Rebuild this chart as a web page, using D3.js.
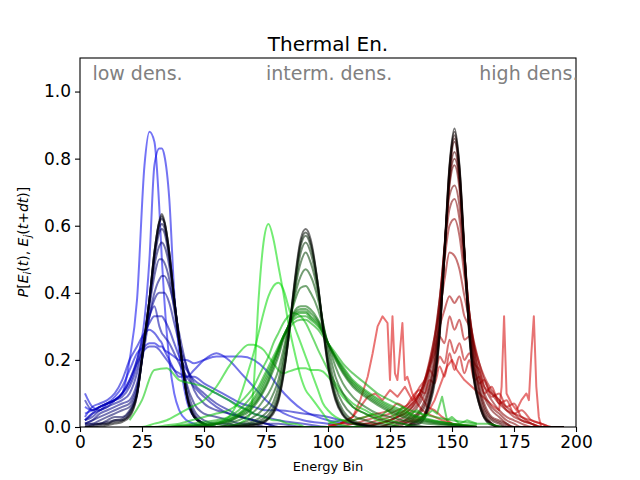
<!DOCTYPE html>
<html>
<head>
<meta charset="utf-8">
<title>Thermal En.</title>
<script src="https://cdn.jsdelivr.net/npm/d3@7"></script>
<style>
  body { margin: 0; background: #fff; }
  svg text { font-family: "DejaVu Sans", sans-serif; }
</style>
</head>
<body>
<div id="chart"></div>
<script>
var blueX = [2,5,8,11,14,17,20,23,26,28,30,32,33,34,36,38,40,43,46,50,55,60,65,70,75,80,90,100,110,120];
// low density, early (light) to late (dark)
var blueY = [
  [0.06,0.05,0.06,0.07,0.08,0.10,0.20,0.38,0.78,0.88,0.85,0.65,0.50,0.38,0.20,0.10,0.05,0.02,0.01,0,0,0,0,0,0,0,0,0,0,0],
  [0.04,0.05,0.06,0.07,0.08,0.10,0.13,0.20,0.32,0.50,0.78,0.83,0.83,0.81,0.68,0.40,0.22,0.08,0.03,0.01,0,0,0,0,0,0,0,0,0,0],
  [0.10,0.06,0.05,0.07,0.09,0.12,0.17,0.22,0.24,0.25,0.25,0.24,0.24,0.23,0.22,0.21,0.20,0.20,0.19,0.20,0.21,0.21,0.21,0.20,0.17,0.12,0.05,0.02,0.01,0],
  [0.03,0.06,0.07,0.08,0.10,0.14,0.20,0.24,0.28,0.29,0.28,0.26,0.25,0.23,0.20,0.17,0.15,0.15,0.17,0.20,0.22,0.20,0.16,0.12,0.08,0.05,0.02,0.01,0,0],
  [0.02,0.04,0.05,0.06,0.08,0.10,0.14,0.19,0.23,0.24,0.24,0.23,0.22,0.21,0.19,0.17,0.16,0.15,0.15,0.13,0.11,0.09,0.07,0.06,0.05,0.05,0.04,0.03,0.01,0],
  [0.02,0.04,0.06,0.07,0.08,0.10,0.14,0.20,0.28,0.31,0.33,0.33,0.33,0.32,0.29,0.25,0.21,0.17,0.14,0.12,0.10,0.08,0.06,0.04,0.03,0.02,0.01,0,0,0],
  [0.08,0.05,0.06,0.07,0.08,0.09,0.12,0.18,0.27,0.33,0.36,0.30,0.28,0.27,0.25,0.22,0.19,0.15,0.12,0.09,0.06,0.04,0.03,0.02,0.01,0,0,0,0,0],
  [0.02,0.03,0.05,0.06,0.07,0.08,0.10,0.16,0.26,0.33,0.38,0.40,0.40,0.40,0.37,0.31,0.25,0.18,0.13,0.10,0.07,0.05,0.03,0.02,0.01,0.01,0,0,0,0],
  [0.01,0.02,0.04,0.05,0.06,0.07,0.08,0.13,0.24,0.33,0.40,0.44,0.45,0.45,0.42,0.36,0.28,0.18,0.11,0.07,0.05,0.04,0.03,0.02,0.01,0,0,0,0,0],
  [0.01,0.02,0.03,0.04,0.05,0.06,0.07,0.12,0.26,0.36,0.45,0.50,0.50,0.49,0.44,0.35,0.25,0.13,0.07,0.04,0.03,0.02,0.01,0.01,0,0,0,0,0,0],
  [0.01,0.01,0.02,0.03,0.04,0.05,0.06,0.11,0.26,0.37,0.48,0.54,0.55,0.54,0.48,0.37,0.26,0.12,0.05,0.02,0.01,0.01,0,0,0,0,0,0,0,0],
  [0.005,0.01,0.01,0.02,0.03,0.03,0.05,0.10,0.26,0.38,0.50,0.58,0.59,0.58,0.50,0.38,0.26,0.10,0.04,0.01,0,0,0,0,0,0,0,0,0,0],
  [0,0.005,0.01,0.015,0.02,0.025,0.045,0.10,0.26,0.38,0.51,0.595,0.605,0.595,0.51,0.38,0.26,0.10,0.035,0.01,0,0,0,0,0,0,0,0,0,0],
  [0,0.005,0.01,0.01,0.02,0.02,0.04,0.10,0.26,0.38,0.52,0.61,0.62,0.61,0.52,0.38,0.26,0.10,0.03,0.01,0,0,0,0,0,0,0,0,0,0],
  [0,0,0.005,0.01,0.015,0.02,0.035,0.095,0.265,0.38,0.52,0.61,0.628,0.61,0.52,0.38,0.26,0.095,0.03,0.009,0,0,0,0,0,0,0,0,0,0],
  [0,0,0,0.005,0.01,0.015,0.03,0.095,0.27,0.38,0.52,0.615,0.635,0.615,0.52,0.38,0.26,0.095,0.03,0.008,0,0,0,0,0,0,0,0,0,0]
];

var greenX = [20,25,30,35,40,45,50,55,60,64,68,70,72,74,76,78,80,82,84,86,89,91,93,96,98,100,103,106,110,115,120,125,130,135,140,150,160];
// intermediate density
var greenY = [
  [0,0,0,0,0, 0,0,0,0.003,0.01, 0.03,0.12,0.38,0.55,0.605, 0.56,0.48,0.40,0.31,0.24, 0.15,0.11,0.09,0.06,0.04, 0.02,0.01,0.005,0,0, 0,0,0,0,0, 0,0],
  [0,0,0,0,0, 0,0,0.01,0.03,0.08, 0.17,0.22,0.28,0.34,0.39, 0.42,0.43,0.41,0.36,0.31, 0.25,0.21,0.17,0.11,0.07, 0.05,0.03,0.02,0.01,0, 0,0,0,0,0, 0,0],
  [0,0,0.01,0.02,0.04, 0.06,0.08,0.12,0.18,0.22, 0.245,0.245,0.24,0.23,0.21, 0.19,0.17,0.16,0.165,0.17, 0.175,0.175,0.17,0.17,0.165, 0.15,0.12,0.09,0.06,0.04, 0.02,0.01,0,0,0, 0,0],
  [0.02,0.08,0.17,0.175,0.14, 0.13,0.12,0.10,0.08,0.06, 0.05,0.04,0.035,0.03,0.025, 0.02,0.02,0.015,0.01,0.01, 0.005,0,0,0,0, 0,0,0,0,0, 0,0,0,0,0, 0,0],
  [0,0,0,0.005,0.01, 0.02,0.03,0.04,0.05,0.07, 0.10,0.12,0.15,0.18,0.21, 0.25,0.28,0.31,0.33,0.34, 0.33,0.31,0.28,0.23,0.20, 0.17,0.13,0.10,0.07,0.05, 0.03,0.02,0.01,0,0, 0,0],
  [0,0,0,0,0.005, 0.01,0.015,0.02,0.03,0.05, 0.08,0.10,0.12,0.15,0.18, 0.21,0.24,0.27,0.29,0.31, 0.32,0.32,0.31,0.29,0.27, 0.25,0.22,0.19,0.16,0.13, 0.10,0.08,0.06,0.045,0.035, 0.02,0.01],
  [0,0,0,0,0.003, 0.006,0.01,0.015,0.025,0.04, 0.065,0.085,0.11,0.14,0.17, 0.20,0.235,0.27,0.30,0.32, 0.33,0.33,0.32,0.30,0.28, 0.25,0.21,0.18,0.14,0.11, 0.085,0.065,0.05,0.035,0.025, 0.01,0.005],
  [0,0,0,0,0.002, 0.004,0.008,0.012,0.022,0.038, 0.06,0.078,0.10,0.13,0.16, 0.195,0.23,0.27,0.30,0.325, 0.34,0.34,0.325,0.305,0.28, 0.25,0.21,0.175,0.135,0.105, 0.08,0.06,0.045,0.032,0.022, 0.01,0],
  [0,0,0,0,0, 0.003,0.006,0.01,0.02,0.035, 0.055,0.07,0.09,0.12,0.15, 0.19,0.23,0.27,0.30,0.33, 0.345,0.345,0.33,0.31,0.28, 0.25,0.21,0.17,0.13,0.10, 0.075,0.055,0.04,0.03,0.02, 0.01,0],
  [0,0,0,0,0, 0.002,0.005,0.009,0.017,0.032, 0.05,0.065,0.085,0.11,0.14, 0.18,0.22,0.265,0.30,0.335, 0.352,0.352,0.34,0.315,0.285, 0.25,0.205,0.165,0.125,0.095, 0.07,0.05,0.035,0.025,0.017, 0.007,0],
  [0,0,0,0,0, 0,0.004,0.008,0.015,0.03, 0.045,0.06,0.08,0.105,0.135, 0.17,0.21,0.26,0.30,0.34, 0.36,0.36,0.35,0.32,0.29, 0.25,0.20,0.16,0.12,0.09, 0.065,0.045,0.03,0.02,0.015, 0.005,0],
  [0,0,0,0,0, 0,0,0,0.01,0.02, 0.035,0.045,0.06,0.08,0.10, 0.13,0.17,0.23,0.30,0.36, 0.415,0.42,0.40,0.35,0.30, 0.25,0.18,0.13,0.09,0.06, 0.04,0.03,0.02,0.015,0.01, 0.005,0],
  [0,0,0,0,0, 0,0,0,0.005,0.01, 0.02,0.03,0.04,0.055,0.07, 0.10,0.14,0.21,0.29,0.37, 0.45,0.47,0.45,0.38,0.31, 0.24,0.15,0.10,0.06,0.04, 0.025,0.015,0.01,0.005,0, 0,0],
  [0,0,0,0,0, 0,0,0,0.003,0.006, 0.012,0.018,0.025,0.035,0.05, 0.075,0.12,0.19,0.28,0.38, 0.49,0.52,0.49,0.40,0.31, 0.22,0.12,0.07,0.035,0.02, 0.01,0.005,0,0,0, 0,0],
  [0,0,0,0,0, 0,0,0,0,0.004, 0.008,0.012,0.017,0.025,0.037, 0.06,0.10,0.17,0.27,0.38, 0.52,0.55,0.52,0.41,0.30, 0.20,0.10,0.05,0.02,0.008, 0.003,0,0,0,0, 0,0],
  [0,0,0,0,0, 0,0,0,0,0.003, 0.006,0.008,0.012,0.018,0.028, 0.05,0.088,0.16,0.26,0.39, 0.54,0.57,0.54,0.42,0.30, 0.19,0.09,0.04,0.015,0.005, 0,0,0,0,0, 0,0],
  [0,0,0,0,0, 0,0,0,0,0.002, 0.004,0.006,0.01,0.015,0.026, 0.045,0.082,0.155,0.26,0.395, 0.55,0.58,0.55,0.42,0.295, 0.185,0.085,0.037,0.013,0.004, 0,0,0,0,0, 0,0],
  [0,0,0,0,0, 0,0,0,0,0, 0.003,0.005,0.007,0.012,0.024, 0.04,0.077,0.15,0.26,0.40, 0.56,0.59,0.56,0.42,0.29, 0.18,0.08,0.035,0.012,0.004, 0,0,0,0,0, 0,0]
];
// one early, noisy intermediate-density curve near the high-density peak
var greenNoiseX = [100,105,110,115,118,121,124,127,130,133,136,139,142,144,146,148,150,153,156,160,165,170];
var greenNoiseY = [0.01,0.02,0.02,0.03,0.04,0.03,0.05,0.03,0.06,0.04,0.05,0.03,0.05,0.04,0.09,0.02,0.03,0.01,0.02,0.01,0.01,0];

var redX = [100,105,110,115,120,125,128,131,134,137,139,141,143,145,147,149,151,153,155,157,159,161,163,166,169,172,175,178,182,186,190,195];
// high density
var redY = [
  [0,0.01,0.02,0.03,0.04, 0.05,0.07,0.06,0.09,0.11, 0.10,0.14,0.13,0.18,0.15, 0.22,0.17,0.21,0.16,0.20, 0.14,0.15,0.10,0.12,0.07, 0.08,0.04,0.05,0.02,0.01, 0,0],
  [0,0.01,0.01,0.02,0.03, 0.04,0.05,0.06,0.08,0.12, 0.14,0.17,0.15,0.21,0.19, 0.26,0.22,0.25,0.20,0.22, 0.17,0.13,0.14,0.09,0.10, 0.06,0.07,0.03,0.02,0.01, 0,0],
  [0,0,0.01,0.01,0.02, 0.03,0.04,0.05,0.07,0.10, 0.13,0.18,0.22,0.27,0.25, 0.33,0.29,0.32,0.26,0.27, 0.19,0.17,0.12,0.10,0.08, 0.05,0.04,0.03,0.01,0, 0,0],
  [0,0,0,0.01,0.01, 0.02,0.03,0.04,0.06,0.10, 0.14,0.19,0.24,0.30,0.35, 0.39,0.37,0.39,0.33,0.30, 0.24,0.19,0.15,0.11,0.08, 0.06,0.04,0.02,0.01,0, 0,0],
  [0,0,0,0,0.01, 0.02,0.03,0.05,0.07,0.10, 0.14,0.20,0.27,0.35,0.44, 0.52,0.51,0.47,0.39,0.32, 0.25,0.19,0.14,0.10,0.07, 0.05,0.03,0.02,0.01,0, 0,0],
  [0,0,0,0,0.01, 0.02,0.03,0.04,0.06,0.09, 0.13,0.19,0.27,0.38,0.50, 0.60,0.62,0.57,0.45,0.34, 0.24,0.17,0.12,0.08,0.05, 0.03,0.02,0.01,0,0, 0,0],
  [0,0,0,0,0, 0.01,0.02,0.03,0.05,0.08, 0.12,0.18,0.26,0.38,0.53, 0.65,0.68,0.62,0.48,0.34, 0.23,0.15,0.10,0.06,0.04, 0.02,0.01,0,0,0, 0,0],
  [0,0,0,0,0, 0.01,0.015,0.02,0.04,0.07, 0.10,0.16,0.24,0.37,0.54, 0.69,0.72,0.66,0.50,0.34, 0.22,0.14,0.09,0.05,0.03, 0.01,0,0,0,0, 0,0],
  [0,0,0,0,0, 0,0.01,0.02,0.03,0.05, 0.08,0.13,0.21,0.34,0.54, 0.72,0.78,0.71,0.52,0.33, 0.20,0.12,0.07,0.03,0.02, 0.01,0,0,0,0, 0,0],
  [0,0,0,0,0, 0,0.005,0.015,0.025,0.045, 0.07,0.12,0.195,0.325,0.53, 0.73,0.80,0.73,0.52,0.32, 0.185,0.11,0.06,0.025,0.015, 0.005,0,0,0,0, 0,0],
  [0,0,0,0,0, 0,0,0.01,0.02,0.04, 0.06,0.11,0.18,0.31,0.52, 0.74,0.82,0.74,0.52,0.31, 0.17,0.10,0.05,0.02,0.01, 0,0,0,0,0, 0,0],
  [0,0,0,0,0, 0,0,0,0.015,0.025, 0.04,0.09,0.16,0.29,0.51, 0.75,0.85,0.75,0.51,0.29, 0.15,0.08,0.04,0.01,0, 0,0,0,0,0, 0,0],
  [0,0,0,0,0, 0,0,0,0.012,0.022, 0.037,0.085,0.155,0.285,0.515, 0.76,0.86,0.76,0.515,0.285, 0.145,0.075,0.035,0.01,0, 0,0,0,0,0, 0,0],
  [0,0,0,0,0, 0,0,0,0.01,0.02, 0.035,0.08,0.15,0.28,0.52, 0.77,0.87,0.77,0.52,0.28, 0.14,0.07,0.03,0.01,0, 0,0,0,0,0, 0,0],
  [0,0,0,0,0, 0,0,0,0.007,0.015, 0.03,0.073,0.14,0.275,0.525, 0.775,0.88,0.775,0.525,0.275, 0.135,0.068,0.028,0.008,0.001, 0,0,0,0,0, 0,0],
  [0,0,0,0,0, 0,0,0,0.005,0.01, 0.027,0.067,0.13,0.27,0.53, 0.78,0.89,0.78,0.53,0.27, 0.13,0.067,0.027,0.006,0.002, 0,0,0,0,0, 0,0]
];
// early, jagged high-density curves (own bins)
var redJagX = [
  [100,105,110,113,116,118,120,122,124,125,126,127,128,130,131,132,134,136,138,140,143,146,150,155,160],
  [130,135,140,143,146,148,150,152,155,158,161,164,167,169,170,171,172,174,176,178,180,181,182,183,184,185,186],
  [105,110,113,116,119,122,125,128,131,134,137,140,143,146,150]
];
var redJagY = [
  [0.005,0.01,0.03,0.08,0.15,0.22,0.30,0.33,0.31,0.14,0.33,0.16,0.14,0.31,0.14,0.15,0.10,0.07,0.05,0.04,0.03,0.02,0.01,0.005,0],
  [0.01,0.02,0.04,0.08,0.14,0.18,0.20,0.17,0.14,0.12,0.10,0.08,0.06,0.05,0.12,0.33,0.10,0.07,0.05,0.08,0.10,0.08,0.22,0.33,0.12,0.03,0],
  [0.01,0.03,0.06,0.09,0.10,0.08,0.11,0.09,0.12,0.08,0.10,0.06,0.05,0.03,0.01]
];

var xTicks = [0, 25, 50, 75, 100, 125, 150, 175, 200];
var yTicks = [0.0, 0.2, 0.4, 0.6, 0.8, 1.0];
var groupLabels = ["low dens.", "interm. dens.", "high dens."];
var labelPos = [5, 75, 161];

var width = 640, height = 480;
var x = d3.scaleLinear().domain([0, 200]).range([80, 576]);
var y = d3.scaleLinear().domain([0, 1.1]).range([427, 58]);

var svg = d3.select("#chart").append("svg")
    .attr("width", width).attr("height", height);

svg.append("clipPath").attr("id", "plotclip")
  .append("rect").attr("x", 80).attr("y", 58).attr("width", 496).attr("height", 369);

function pairs(xs, ys) {
    return ys.map(function(v, i) { return [xs[i], v]; });
}

var smooth = d3.line().x(function(d) { return x(d[0]); }).y(function(d) { return y(d[1]); })
    .curve(d3.curveMonotoneX);
var jag = d3.line().x(function(d) { return x(d[0]); }).y(function(d) { return y(d[1]); });

// each group: list of curves, light first, dark last
var blueSeries = blueY.map(function(c) { return {pts: pairs(blueX, c), line: smooth}; });
var greenSeries = greenY.slice(0, 5).map(function(c) { return {pts: pairs(greenX, c), line: smooth}; })
    .concat([{pts: pairs(greenNoiseX, greenNoiseY), line: jag}])
    .concat(greenY.slice(5).map(function(c) { return {pts: pairs(greenX, c), line: smooth}; }));
var redSeries = redJagY.map(function(c, i) { return {pts: pairs(redJagX[i], c), line: jag}; })
    .concat(redY.map(function(c) { return {pts: pairs(redX, c), line: smooth}; }));

var groups = [
    {series: blueSeries, base: "#0000ee"},
    {series: redSeries, base: "#d80000"},
    {series: greenSeries, base: "#00dd00"}
];

var plot = svg.append("g").attr("clip-path", "url(#plotclip)");
groups.forEach(function(g) {
    var n = g.series.length;
    var col = d3.interpolateRgb(g.base, "#000000");
    plot.append("g").selectAll("path").data(g.series).enter()
        .append("path")
        .attr("d", function(d) { return d.line(d.pts); })
        .attr("fill", "none")
        .attr("stroke", function(d, i) { return col(Math.pow(i / (n - 1), 1.3)); })
        .attr("stroke-width", 2)
        .attr("stroke-opacity", 0.55)
        .attr("stroke-linejoin", "round");
});

// axes
var xAxis = svg.append("g").attr("transform", "translate(0,427)")
    .call(d3.axisBottom(x).tickValues(xTicks).tickSize(5).tickPadding(4).tickFormat(d3.format("d")));
var yAxis = svg.append("g").attr("transform", "translate(80,0)")
    .call(d3.axisLeft(y).tickValues(yTicks).tickSize(5).tickPadding(4).tickFormat(d3.format(".1f")));
[xAxis, yAxis].forEach(function(a) {
    a.select(".domain").remove();
    a.selectAll("line").attr("stroke", "#000").attr("stroke-width", 1.1);
    a.selectAll("text").attr("fill", "#000").style("font-size", "17px")
        .style("font-family", "DejaVu Sans, sans-serif");
});

svg.append("rect").attr("x", 80).attr("y", 58).attr("width", 496).attr("height", 369)
    .attr("fill", "none").attr("stroke", "#000").attr("stroke-width", 1.1);

// titles and labels
svg.append("text").attr("x", 328).attr("y", 51).attr("text-anchor", "middle")
    .style("font-size", "20px").text("Thermal En.");

svg.append("text").attr("x", 328).attr("y", 471).attr("text-anchor", "middle")
    .style("font-size", "13px").text("Energy Bin");

svg.selectAll(".glabel").data(groupLabels).enter()
    .append("text").attr("class", "glabel")
    .attr("x", function(d, i) { return x(labelPos[i]); })
    .attr("y", 80)
    .attr("fill", "#808080")
    .style("font-size", "19px")
    .text(function(d) { return d; });

// y label: P[E_i(t), E_j(t+dt)]
var yl = svg.append("text").attr("transform", "translate(28,242) rotate(-90)")
    .attr("text-anchor", "middle").style("font-size", "14px");
var parts = [
    ["P", "i"], ["[", ""], ["E", "i"], ["i", "sub"], ["(", ""], ["t", "i"], ["), ", ""],
    ["E", "i"], ["j", "sub"], ["(", ""], ["t", "i"], ["+", ""], ["dt", "i"], [")]", ""]
];
var shifted = false;
parts.forEach(function(p) {
    var t = yl.append("tspan").text(p[0]);
    if (p[1] === "i" || p[1] === "sub") t.style("font-style", "italic");
    if (p[1] === "sub") { t.style("font-size", "10px").attr("dy", 3); shifted = true; }
    else if (shifted) { t.attr("dy", -3); shifted = false; }
});
</script>
</body>
</html>
